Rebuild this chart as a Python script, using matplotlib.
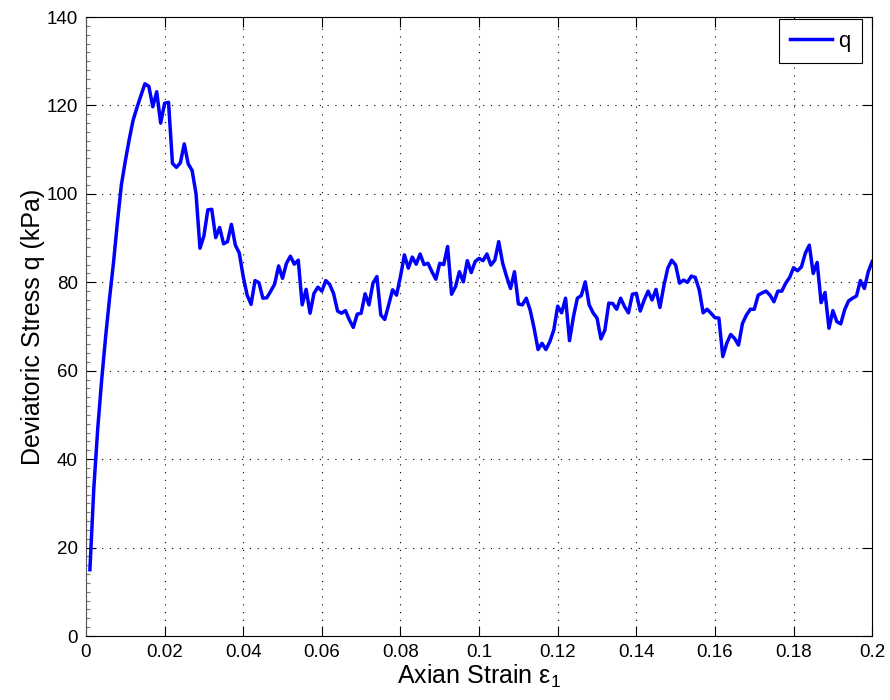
import numpy as np
import matplotlib
matplotlib.use('Agg')
import matplotlib.pyplot as plt
from matplotlib.ticker import MultipleLocator

plt.rcParams['font.family'] = ['Liberation Sans', 'DejaVu Sans']
plt.rcParams['mathtext.default'] = 'regular'

# axial strain steps (one reading per 0.001)
strain = np.arange(1, 201) / 1000.0

# deviatoric stress q (kPa)
q = [15, 33.5, 47, 58, 67.7, 76.4, 84.4, 93.6, 102, 107.4,
     112.3, 116.7, 119.6, 122.3, 124.9, 124.3, 119.7, 123.1, 116, 120.5,
     120.7, 106.9, 106, 107, 111.3, 106.8, 105.3, 100, 87.7, 90.5,
     96.4, 96.5, 90.1, 92.4, 88.7, 89.2, 93.1, 88.4, 86.6, 81.3,
     77.1, 75.0, 80.4, 79.9, 76.4, 76.5, 78, 79.6, 83.7, 80.9,
     84.3, 85.9, 84.1, 85.0, 74.9, 78.4, 73.0, 77.5, 78.9, 78.0,
     80.4, 79.5, 77.4, 73.5, 73.0, 73.6, 71.5, 69.8, 72.8, 73.0,
     77.4, 74.9, 79.8, 81.3, 72.6, 71.6, 74.9, 78.3, 77.1, 81.3,
     86.2, 83.2, 85.7, 84.1, 86.4, 84.0, 84.3, 82.4, 80.7, 84.3,
     84.0, 88.1, 77.3, 79.0, 82.4, 80.1, 84.9, 82.2, 84.7, 85.4,
     84.9, 86.4, 83.9, 85.0, 89.2, 84.3, 81.3, 78.6, 82.4, 75.1,
     74.9, 76.4, 73.7, 69.6, 64.8, 66.2, 64.8, 66.6, 69.2, 74.6,
     73.1, 76.4, 66.8, 72.2, 76.4, 77.0, 80.1, 74.9, 73.1, 71.9,
     67.2, 69.2, 75.3, 75.2, 73.9, 76.4, 74.5, 73.1, 77.3, 77.5,
     73.5, 76.0, 78.0, 76.0, 78.4, 74.3, 79.2, 83.2, 85.0, 83.9,
     79.8, 80.5, 80.0, 81.4, 81.1, 78.3, 73.1, 73.9, 73.0, 72.0,
     71.9, 63.2, 66.2, 68.2, 67.3, 65.8, 70.7, 72.6, 73.9, 73.9,
     77.1, 77.6, 78.0, 77.1, 75.6, 78.0, 78.0, 79.8, 81.1, 83.3,
     82.6, 83.5, 86.6, 88.4, 82.0, 84.5, 75.4, 77.7, 69.6, 73.6,
     71.1, 70.6, 73.8, 75.8, 76.4, 76.9, 80.4, 78.6, 82.4, 84.7]

xticks = [0, 0.02, 0.04, 0.06, 0.08, 0.1, 0.12, 0.14, 0.16, 0.18, 0.2]
xticklabels = ['0', '0.02', '0.04', '0.06', '0.08', '0.1', '0.12',
               '0.14', '0.16', '0.18', '0.2']
yticks = [0, 20, 40, 60, 80, 100, 120, 140]

fig = plt.figure(figsize=(8.9, 7.0), dpi=100)
ax = fig.add_axes([0.0966, 0.0914, 0.8834, 0.8843])

ax.plot(strain, q, color='#0000ff', linewidth=2.5, label='q')

ax.set_xlim(0, 0.2)
ax.set_ylim(0, 140)
ax.set_xticks(xticks)
ax.set_xticklabels(xticklabels)
ax.set_yticks(yticks)
ax.yaxis.set_minor_locator(MultipleLocator(2))

ax.grid(True, which='major', color='black', linestyle=(0, (1, 6)), linewidth=0.8)
ax.tick_params(which='major', direction='in', length=7, width=0.8,
               labelsize=13.5, top=True, right=True, pad=6)
ax.tick_params(axis='y', which='minor', direction='in', length=3, width=0.8,
               color='#777777', left=True, right=False)
for s in ax.spines.values():
    s.set_linewidth(0.8)
ax.spines['left'].set_color('#555555')

ax.set_xlabel(r'Axian Strain $\epsilon_1$', fontsize=18, labelpad=1)
ax.set_ylabel('Deviatoric Stress q (kPa)', fontsize=18, labelpad=1)

leg = ax.legend(loc='upper right', bbox_to_anchor=(0.987, 0.996),
                borderaxespad=0, fontsize=16, fancybox=False,
                framealpha=1, edgecolor='black', handlelength=1.9,
                handletextpad=0.3, borderpad=0.5)
leg.get_frame().set_linewidth(0.8)

fig.savefig('out.png', dpi=100)
